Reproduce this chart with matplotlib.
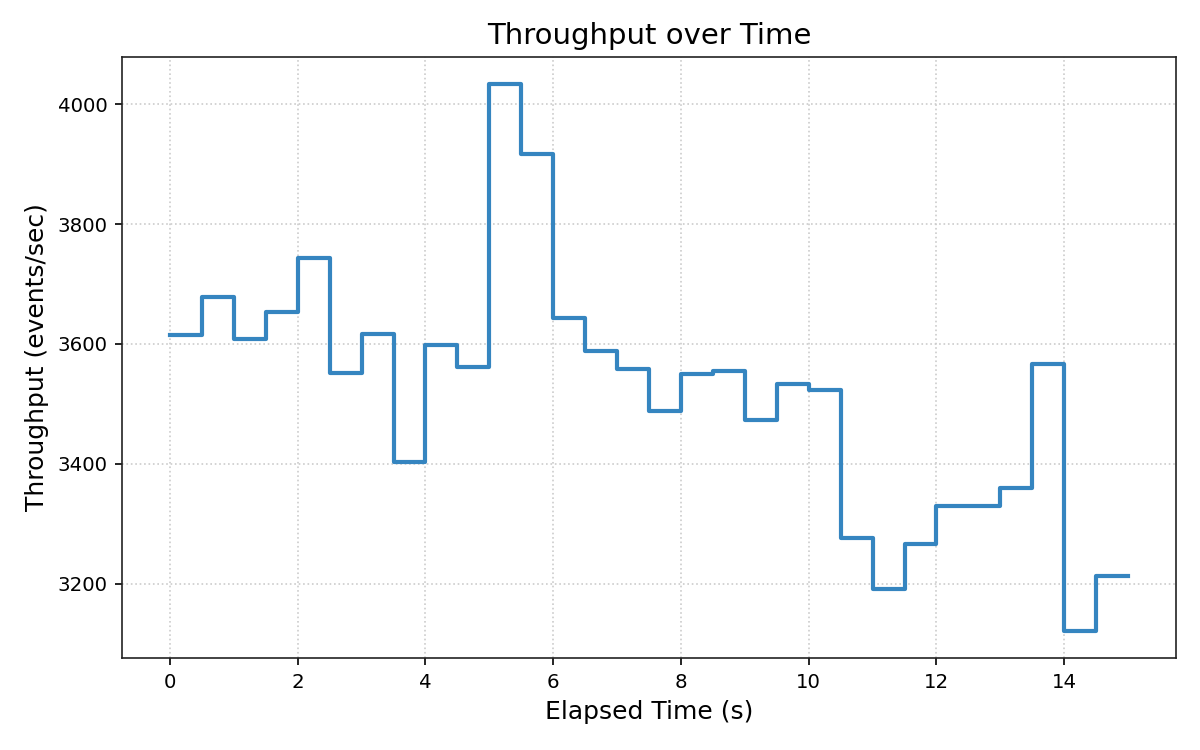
import matplotlib.pyplot as plt

# elapsed time (s) and throughput per half-second window
elapsed_time = [0.0, 0.5, 1.0, 1.5, 2.0, 2.5, 3.0, 3.5, 4.0, 4.5,
                5.0, 5.5, 6.0, 6.5, 7.0, 7.5, 8.0, 8.5, 9.0, 9.5,
                10.0, 10.5, 11.0, 11.5, 12.0, 12.5, 13.0, 13.5, 14.0, 14.5, 15.0]
throughput = [3615, 3678, 3609, 3653, 3743, 3552, 3616, 3403, 3599, 3562,
              4033, 3917, 3644, 3589, 3559, 3489, 3550, 3555, 3473, 3534,
              3524, 3277, 3192, 3267, 3330, 3330, 3360, 3566, 3122, 3213, 3213]

fig, ax = plt.subplots(figsize=(8, 5), dpi=150)
fig.subplots_adjust(left=0.1017, right=0.98, top=0.924, bottom=0.1227)

ax.step(elapsed_time, throughput, where='post', color='#3585c0', linewidth=2)

ax.set_title('Throughput over Time', fontsize=14)
ax.set_xlabel('Elapsed Time (s)', fontsize=12)
ax.set_ylabel('Throughput (events/sec)', fontsize=12)
ax.tick_params(labelsize=9.5)
ax.set_xticks(range(0, 15, 2))
ax.set_yticks([3200, 3400, 3600, 3800, 4000])
ax.grid(True, linestyle=':', color='#cccccc', linewidth=0.8)
for spine in ax.spines.values():
    spine.set_color('#222222')

fig.savefig('out.png', dpi=150)
